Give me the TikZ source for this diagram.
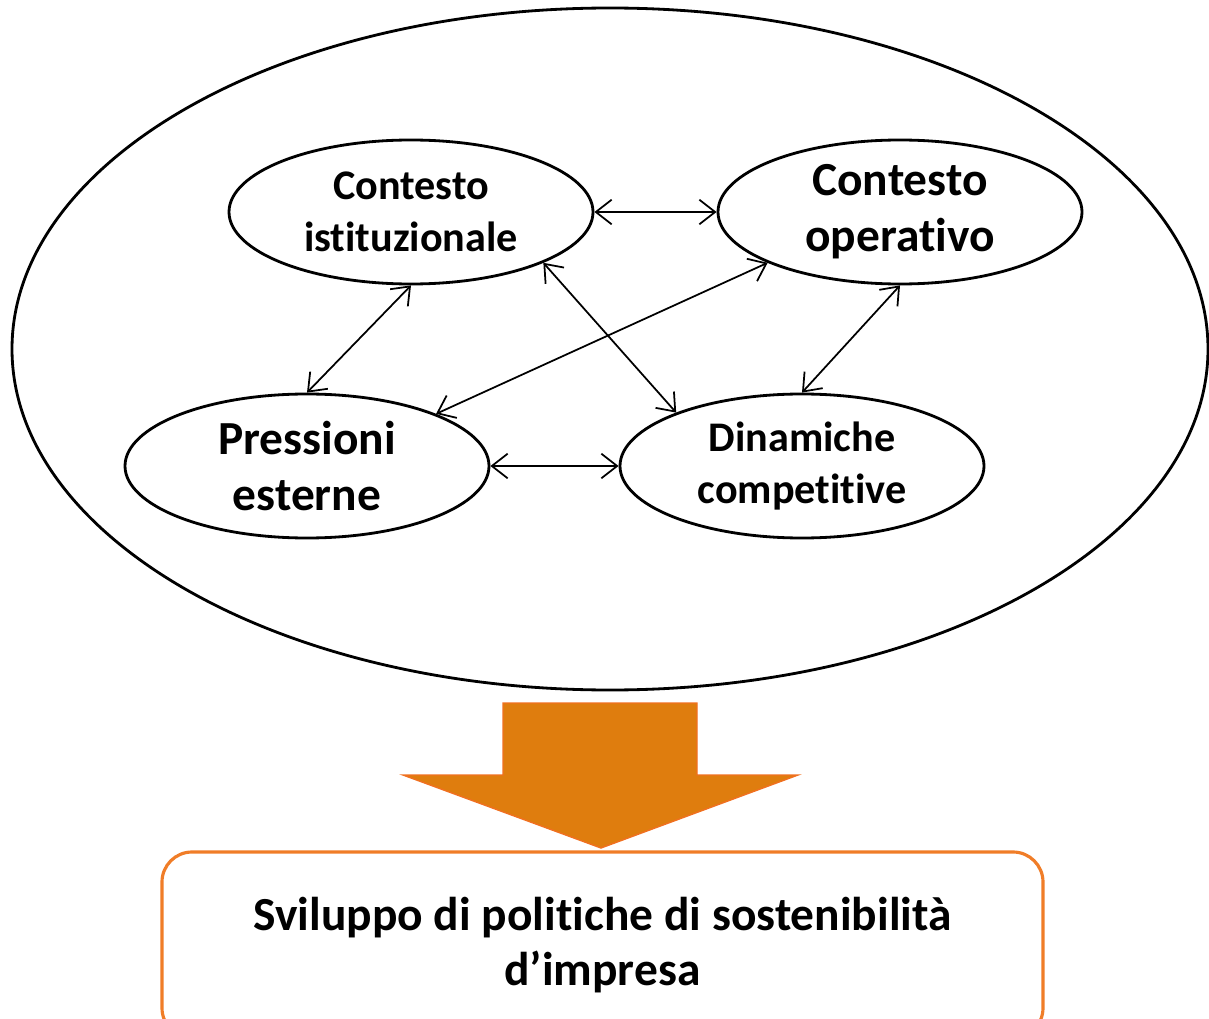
\documentclass[tikz,border=0pt]{standalone}
\usepackage{fontspec}
\setmainfont{Carlito}[Ligatures={NoCommon,TeX}]
\usetikzlibrary{shapes.geometric,arrows.meta}
\definecolor{arrowfill}{RGB}{223,125,14}
\definecolor{arrowedge}{RGB}{240,112,32}
\definecolor{boxedge}{RGB}{240,125,40}
\tikzset{
  factor/.style={draw, ellipse, line width=0.8pt, minimum width=3.64cm, minimum height=1.44cm, inner sep=0pt, align=center, font=\bfseries\fontsize{12}{14.8}\selectfont},
  bigfactor/.style={factor, font=\bfseries\fontsize{13.5}{16}\selectfont},
  link/.style={<->, line width=0.5pt, >={Straight Barb[length=4.5pt,width=7pt]}}
}
\begin{document}
\begin{tikzpicture}
  \useasboundingbox (0,0) rectangle (12.09,10.18);
  \clip (0,0) rectangle (12.09,10.18);

  % ---- Outer context ----
  \draw[line width=0.8pt] (6.10,6.69) ellipse [x radius=5.98, y radius=3.41];

  % ---- Factors ----
  \node[factor] (ci) at (4.11,8.06) {Contesto\\istituzionale};
  \node[bigfactor] (co) at (9.00,8.06) {Contesto\\operativo};
  \node[bigfactor] (pe) at (3.07,5.52) {Pressioni\\esterne};
  \node[factor] (dc) at (8.02,5.52) {Dinamiche\\competitive};

  % ---- Links ----
  \draw[link] (ci.east) -- (co.west);
  \draw[link] (pe.east) -- (dc.west);
  \draw[link] (ci.south) -- (pe.north);
  \draw[link] (co.south) -- (dc.north);
  \draw[link] (ci.-21) -- (dc.157);
  \draw[link] (co.201) -- (pe.22);

  % ---- Result ----
  \fill[arrowfill, draw=arrowedge, line width=0.4pt] (5.03,3.15) -- (6.97,3.15) -- (6.97,2.43) -- (7.98,2.43) -- (6.01,1.70) -- (4.03,2.43) -- (5.03,2.43) -- cycle;
  \node[draw=boxedge, line width=0.9pt, rounded corners=0.3cm, minimum width=8.81cm, minimum height=1.86cm, align=center, font=\bfseries\fontsize{13.5}{15.6}\selectfont] (sv) at (6.025,0.73) {Sviluppo di politiche di sostenibilità\\d’impresa};
\end{tikzpicture}
\end{document}
